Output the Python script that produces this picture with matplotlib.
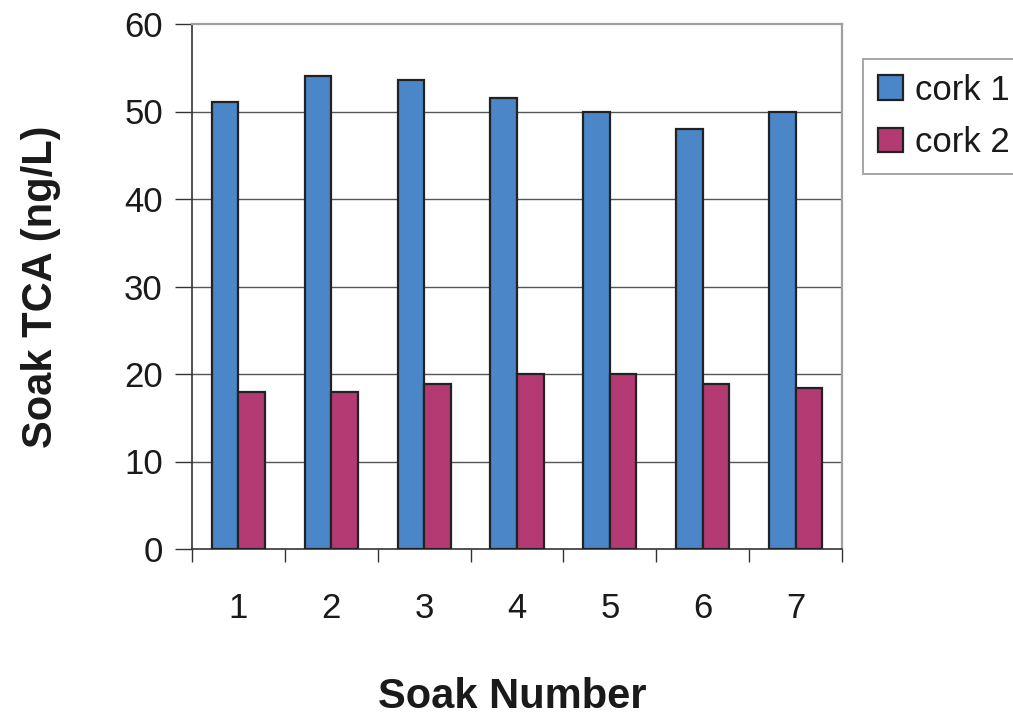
import matplotlib
matplotlib.use("Agg")
import matplotlib.pyplot as plt
import numpy as np
from matplotlib.patches import Patch

# Soak measurements for two corks
soaks = ["1", "2", "3", "4", "5", "6", "7"]
cork1 = [51.1, 54.1, 53.6, 51.5, 50.0, 48.0, 50.0]
cork2 = [18.0, 18.0, 18.9, 20.0, 20.0, 18.9, 18.4]
series_names = ["cork 1", "cork 2"]
yticks = [0, 10, 20, 30, 40, 50, 60]

plt.rcParams["font.family"] = ["Liberation Sans", "DejaVu Sans"]

W, H = 1013, 716
fig = plt.figure(figsize=(W / 100, H / 100), dpi=100)
ax = fig.add_axes([192 / W, 1 - 549 / H, 650 / W, 525 / H])

x = np.arange(len(soaks))
w = 1 / 3.5
c1 = "#4a86c8"
c2 = "#b33a73"
edge = "#222222"

ax.bar(x - w / 2, cork1, width=w, color=c1, edgecolor=edge, linewidth=1.6, zorder=3)
ax.bar(x + w / 2, cork2, width=w, color=c2, edgecolor=edge, linewidth=1.6, zorder=3)

ax.set_xlim(-0.5, len(soaks) - 0.5)
ax.set_ylim(0, 60)
ax.set_yticks(yticks)
ax.set_yticklabels([str(v) for v in yticks], fontsize=25, color="#1a1a1a")

# category labels centred, tick marks between categories
ax.set_xticks(x)
ax.set_xticklabels(soaks, fontsize=25, color="#1a1a1a")
ax.tick_params(axis="x", length=0, pad=31)
ax.set_xticks(np.arange(-0.5, len(soaks)), minor=True)
ax.tick_params(axis="x", which="minor", length=9, width=1.0, color="#333333", direction="out")
ax.tick_params(axis="y", length=12, width=1.0, color="#333333", direction="out", pad=9)

# horizontal gridlines
for v in yticks[1:-1]:
    ax.axhline(v, color="#555555", linewidth=1.0, zorder=1)

for s in ["top", "right"]:
    ax.spines[s].set_color("#a0a0a0")
    ax.spines[s].set_linewidth(1.6)
for s in ["left", "bottom"]:
    ax.spines[s].set_color("#333333")
    ax.spines[s].set_linewidth(1.2)

fig.text(41 / W, 1 - 287 / H, "Soak TCA (ng/L)", rotation=90, ha="center", va="center",
         fontsize=30, fontweight="bold", color="#1a1a1a")
fig.text(512 / W, 1 - 708 / H, "Soak Number", ha="center", va="baseline",
         fontsize=30, fontweight="bold", color="#1a1a1a")

handles = [Patch(facecolor=c1, edgecolor=edge, linewidth=1.6),
           Patch(facecolor=c2, edgecolor=edge, linewidth=1.6)]
leg = fig.legend(handles, series_names, loc="upper left",
                 bbox_to_anchor=(863 / W, 1 - 59 / H),
                 fontsize=25, frameon=True, fancybox=False,
                 handlelength=0.72, handleheight=0.72, handletextpad=0.35,
                 labelspacing=0.56, borderpad=0.42, borderaxespad=0)
for t in leg.get_texts():
    t.set_color("#1a1a1a")
leg.get_frame().set_edgecolor("#909090")
leg.get_frame().set_linewidth(1.4)

fig.savefig("out.png", dpi=100)
